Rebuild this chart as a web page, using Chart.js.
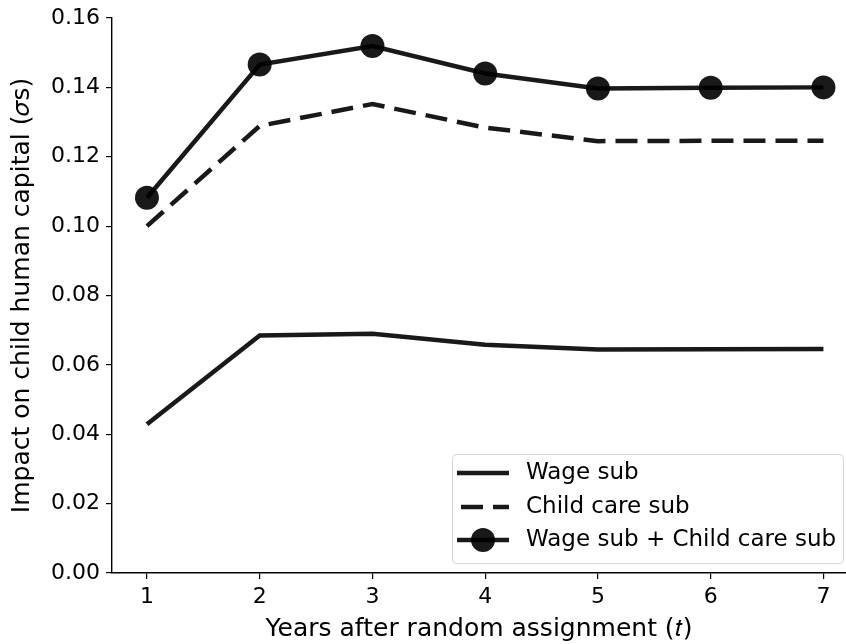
<!DOCTYPE html>
<html>
<head>
<meta charset="utf-8">
<script src="https://cdn.jsdelivr.net/npm/chart.js@4.4.0/dist/chart.umd.min.js"></script>
<style>
html,body{margin:0;padding:0;background:#fff;overflow:hidden;}
#c{display:block;}
</style>
</head>
<body>
<canvas id="c" width="846" height="644" style="width:846px;height:644px"></canvas>
<script>
const years = [1, 2, 3, 4, 5, 6, 7];
const wageSub = [0.0429, 0.0685, 0.0690, 0.0658, 0.0644, 0.0645, 0.0646];
const childCareSub = [0.1000, 0.1289, 0.1352, 0.1284, 0.1245, 0.1246, 0.1246];
const bothSub = [0.1082, 0.1466, 0.1519, 0.1440, 0.1397, 0.1399, 0.1400];
const yTicks = [0.00, 0.02, 0.04, 0.06, 0.08, 0.10, 0.12, 0.14, 0.16];
const seriesLabels = ['Wage sub', 'Child care sub', 'Wage sub + Child care sub'];
const xTitle = 'Years after random assignment (\u{1D461})';
const yTitle = 'Impact on child human capital (\u{1D70E}s)';

const ink = 'rgba(0,0,0,0.9)';
const FONT = "'DejaVu Sans', sans-serif";

function pts(arr){ return arr.map((v,i)=>({x: years[i], y: v})); }

const legendPlugin = {
  id: 'mplLegend',
  afterDraw(chart){
    const ctx = chart.ctx;
    const bx = 452.5, by = 454.5, bw = 391, bh = 109, r = 4;
    ctx.save();
    ctx.beginPath();
    ctx.moveTo(bx + r, by);
    ctx.lineTo(bx + bw - r, by);
    ctx.arcTo(bx + bw, by, bx + bw, by + r, r);
    ctx.lineTo(bx + bw, by + bh - r);
    ctx.arcTo(bx + bw, by + bh, bx + bw - r, by + bh, r);
    ctx.lineTo(bx + r, by + bh);
    ctx.arcTo(bx, by + bh, bx, by + bh - r, r);
    ctx.lineTo(bx, by + r);
    ctx.arcTo(bx, by, bx + r, by, r);
    ctx.closePath();
    ctx.fillStyle = 'rgba(255,255,255,0.8)';
    ctx.fill();
    ctx.strokeStyle = 'rgba(204,204,204,0.8)';
    ctx.lineWidth = 1;
    ctx.stroke();
    const rows = [473, 507, 540];
    chart.data.datasets.forEach((ds, i) => {
      const y = rows[i];
      ctx.beginPath();
      ctx.setLineDash(ds.borderDash || []);
      ctx.lineDashOffset = ds.borderDash ? -4 : 0;
      ctx.lineCap = 'butt';
      ctx.strokeStyle = ds.borderColor;
      ctx.lineWidth = ds.borderWidth;
      ctx.moveTo(457, y);
      ctx.lineTo(509, y);
      ctx.stroke();
      ctx.setLineDash([]);
      if (ds.pointRadius > 0) {
        ctx.beginPath();
        ctx.fillStyle = ds.pointBackgroundColor;
        ctx.arc(483, y, ds.pointRadius, 0, Math.PI * 2);
        ctx.fill();
      }
      ctx.fillStyle = '#000';
      ctx.font = '23px ' + FONT;
      ctx.textBaseline = 'middle';
      ctx.textAlign = 'left';
      ctx.fillText(ds.label, 526, y);
    });
    ctx.restore();
  }
};

new Chart(document.getElementById('c'), {
  type: 'line',
  data: {
    datasets: [
      { label: seriesLabels[0], data: pts(wageSub), borderColor: ink, borderWidth: 4.5,
        pointRadius: 0, pointHoverRadius: 0, fill: false, tension: 0, borderCapStyle: 'butt' },
      { label: seriesLabels[1], data: pts(childCareSub), borderColor: ink, borderWidth: 4.5,
        borderDash: [22, 10], pointRadius: 0, pointHoverRadius: 0, fill: false, tension: 0, borderCapStyle: 'butt' },
      { label: seriesLabels[2], data: pts(bothSub), borderColor: ink, borderWidth: 4.5,
        pointRadius: 12, pointHoverRadius: 12, pointBackgroundColor: ink, pointBorderWidth: 0,
        pointBorderColor: 'rgba(0,0,0,0)', fill: false, tension: 0, borderCapStyle: 'butt' }
    ]
  },
  options: {
    responsive: false,
    animation: false,
    clip: false,
    layout: { autoPadding: false, padding: { top: 18, right: 0, left: 0, bottom: 0 } },
    plugins: { legend: { display: false }, tooltip: { enabled: false } },
    scales: {
      x: {
        type: 'linear', min: 0.69, max: 7.2,
        afterBuildTicks: (s) => { s.ticks = years.map(v => ({ value: v })); },
        afterFit: (s) => { s.height = 71; s.paddingLeft = 0; s.paddingRight = 0; },
        grid: { display: true, drawOnChartArea: false, drawTicks: true, tickLength: 6, color: '#000', lineWidth: 1.2 },
        border: { display: true, color: '#000', width: 1.4 },
        ticks: { color: '#000', font: { family: FONT, size: 22 }, padding: 5, callback: (v) => String(v), maxRotation: 0 },
        title: { display: true, text: xTitle, color: '#000', font: { family: FONT, size: 25 }, padding: { top: 0, bottom: 0 } }
      },
      y: {
        type: 'linear', min: 0, max: 0.16,
        afterBuildTicks: (s) => { s.ticks = yTicks.map(v => ({ value: v })); },
        afterFit: (s) => { s.width = 112; s.paddingTop = 0; s.paddingBottom = 0; },
        grid: { display: true, drawOnChartArea: false, drawTicks: true, tickLength: 6, color: '#000', lineWidth: 1.2 },
        border: { display: true, color: '#000', width: 1.4 },
        ticks: { color: '#000', font: { family: FONT, size: 22 }, padding: 6, callback: (v) => Number(v).toFixed(2) },
        title: { display: true, text: yTitle, color: '#000', font: { family: FONT, size: 25 }, padding: { top: 7, bottom: 0 } }
      }
    }
  },
  plugins: [legendPlugin]
});
</script>
</body>
</html>
